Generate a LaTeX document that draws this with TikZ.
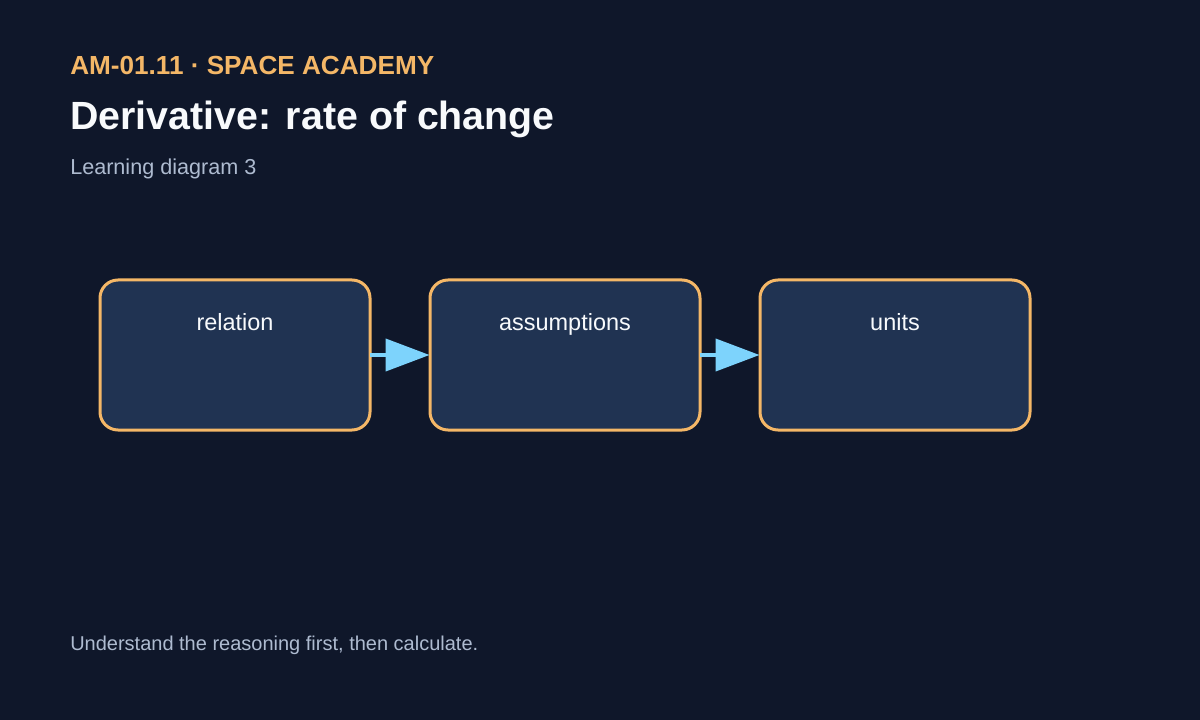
\documentclass[tikz,border=0pt]{standalone}
\usepackage{fontspec}
\setmainfont{Liberation Sans}
\usetikzlibrary{arrows.meta}
\definecolor{bg}{HTML}{0F172A}
\definecolor{boxfill}{HTML}{203352}
\definecolor{boxline}{HTML}{F4B767}
\definecolor{accent}{HTML}{F4B767}
\definecolor{titlec}{HTML}{F8FAFC}
\definecolor{subc}{HTML}{AEBBD0}
\definecolor{arrowc}{HTML}{7DD3FC}
\tikzset{
  stepbox/.style={draw=boxline, line width=2.25pt, fill=boxfill, rounded corners=13.5pt,
    minimum width=202.5pt, minimum height=112.5pt, inner sep=0pt},
  boxlabel/.style={text=titlec, font=\fontsize{17.6pt}{20pt}\selectfont, anchor=base},
  flow/.style={draw=arrowc, line width=3pt, -{Triangle[length=33pt,width=24pt]}, shorten <=-1pt, shorten >=-0.8pt},
}
\begin{document}
\begin{tikzpicture}[x=0.75pt,y=-0.75pt]
\fill[bg] (0,0) rectangle (1200,720);
\useasboundingbox (0,0) rectangle (1200,720);
\node[anchor=base west, inner sep=0pt, text=accent, font=\bfseries\fontsize{19.6pt}{22pt}\selectfont] (hdr) at (70,75) {AM-01.11 · SPACE ACADEMY};
\node[anchor=base west, inner sep=0pt, text=titlec, font=\bfseries\fontsize{29.5pt}{34pt}\selectfont] (ttl) at (70,130) {Derivative: rate of change};
\node[anchor=base west, inner sep=0pt, text=subc, font=\fontsize{16.2pt}{19pt}\selectfont] (sub) at (70,175) {Learning diagram 3};
\node[stepbox] (b1) at (235,355) {};
\node[stepbox] (b2) at (565,355) {};
\node[stepbox] (b3) at (895,355) {};
\node[boxlabel] (l1) at (235,330) {relation};
\node[boxlabel] (l2) at (565,330) {assumptions};
\node[boxlabel] (l3) at (895,330) {units};
\draw[flow] (b1.east) -- (b2.west);
\draw[flow] (b2.east) -- (b3.west);
\node[anchor=base west, inner sep=0pt, text=subc, font=\fontsize{15pt}{18pt}\selectfont] (ftr) at (70,650) {Understand the reasoning first, then calculate.};
\end{tikzpicture}
\end{document}
